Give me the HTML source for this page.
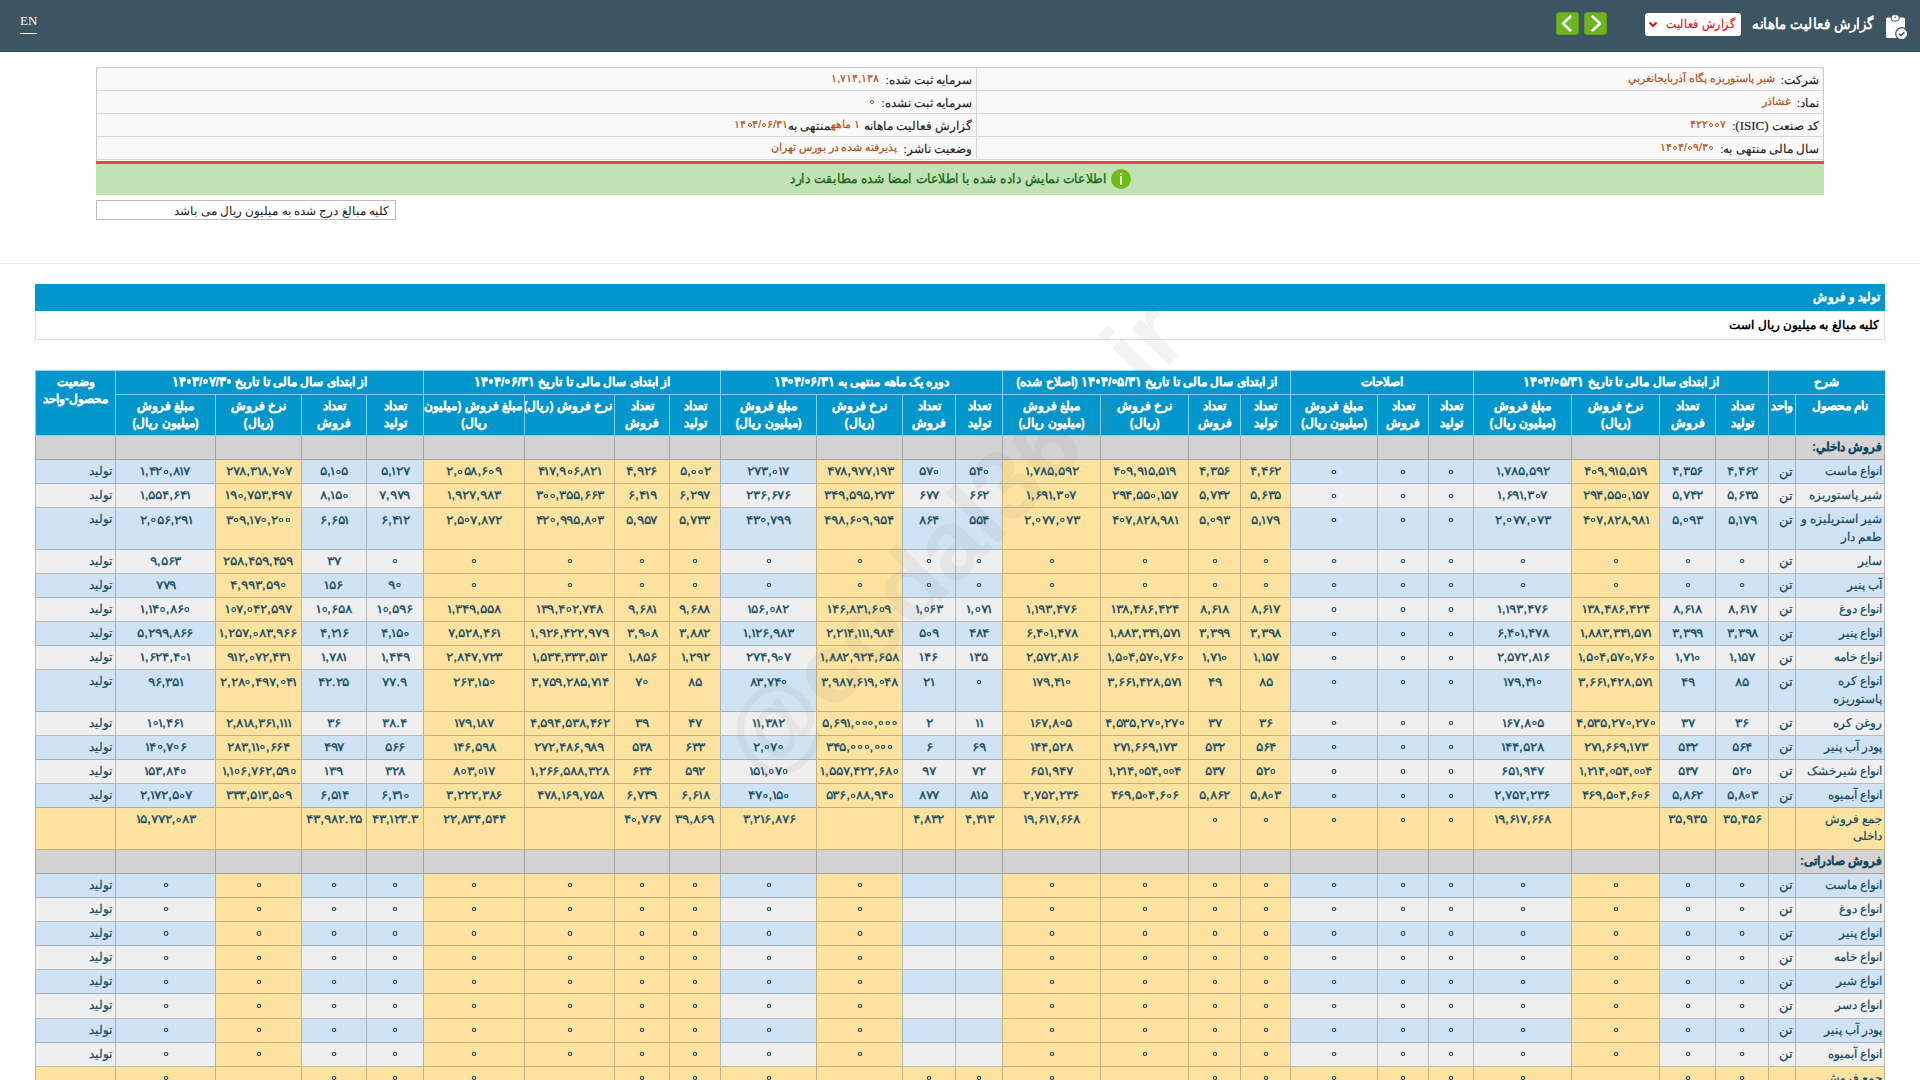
<!DOCTYPE html>
<html lang="fa" dir="rtl"><head><meta charset="utf-8"><title>گزارش فعالیت ماهانه</title>
<style>
html,body{margin:0;padding:0;background:#fff;}
body{width:1920px;height:1080px;overflow:hidden;position:relative;font-family:"Liberation Sans",sans-serif;font-size:12px;color:#333;}
.bar{position:absolute;left:0;top:0;width:1920px;height:51px;background:#3d5562;border-bottom:1px solid #38474f;}
.en{position:absolute;left:20px;top:13px;font-family:"Liberation Serif",serif;font-size:13px;color:#fff;direction:ltr;}
.en:after{content:"";position:absolute;left:0;right:0;top:20px;height:1px;background:#fff;}
.ttl{position:absolute;right:47px;top:14.5px;font-size:15px;font-weight:bold;color:#fff;white-space:nowrap;transform:scaleX(0.9);transform-origin:right center;}
.dd{position:absolute;left:1645px;top:13px;width:96px;height:23px;background:#fff;border-radius:3px;}
.dd span{position:absolute;right:6px;top:4px;font-size:11.5px;transform:scaleX(0.91);transform-origin:right center;-webkit-text-stroke:0.2px #e0161e;color:#e0161e;white-space:nowrap;}
.gb{position:absolute;top:12px;width:23px;height:23px;background:#6cb421;border-radius:4px;box-shadow:inset 0 0 0 1px #5f9f1f;}
.ic{position:absolute;left:1880px;top:10px;}
.info{position:absolute;left:96px;top:67px;width:1728px;height:128px;}
.itab{position:absolute;left:0;top:0;width:1728px;border-collapse:collapse;background:#f9f9f9;table-layout:fixed;}
.itab td{border:1px solid #d6d6d6;height:20px;padding:2px 4px 0 5px;font-size:11.5px;color:#222;-webkit-text-stroke:0.15px #222;white-space:nowrap;vertical-align:middle;}
.itab .v{color:#b0501a;font-size:10.6px;position:relative;top:-2px;margin-right:3px;-webkit-text-stroke:0.2px #b0501a;}
.itab .v .z{width:6px;}
.itab .v .z:after{left:1.2px;width:4px;height:4px;border-width:1.2px;bottom:1px;}
.ser{font-family:'Liberation Serif',serif;font-size:13px;}
.red{position:absolute;left:0;top:93.6px;width:1728px;height:3.4px;background:#e4474a;}
.grn{position:absolute;left:0;top:97px;width:1728px;height:31px;background:#c1e2b3;}
.grn span{position:absolute;right:718px;top:6.5px;font-size:12.6px;transform:scaleX(0.943);transform-origin:right center;-webkit-text-stroke:0.3px #176514;color:#176514;white-space:nowrap;}
.gi{position:absolute;left:1015px;top:5px;width:20px;height:20px;border-radius:50%;background:#6cbb18;}
.gi:after{content:"";position:absolute;left:9px;top:7px;width:2px;height:9px;background:#e8ffd8;}
.gi:before{content:"";position:absolute;left:9px;top:4px;width:2px;height:2px;background:#e8ffd8;}
.mbox{position:absolute;left:96px;top:200px;width:298px;height:18px;border:1px solid #bdbdbd;background:#fff;}
.mbox span{position:absolute;right:6px;top:3px;font-size:12px;color:#222;white-space:nowrap;}
.hr{position:absolute;left:0;top:263px;width:1920px;height:1px;background:#eee;}
.sh{position:absolute;left:35px;top:284px;width:1850px;height:27px;background:#0197cc;}
.sh span{position:absolute;right:6px;top:6px;font-size:11.5px;transform:scaleX(0.95);transform-origin:right center;-webkit-text-stroke:0.2px #fff;font-weight:bold;color:#fff;white-space:nowrap;}
.sr{position:absolute;left:35px;top:311px;width:1848px;height:28px;border:1px solid #ddd;border-top:0;background:#fff;}
.sr span{position:absolute;right:5px;top:7px;font-size:12px;font-weight:bold;color:#000;white-space:nowrap;}
.dt{position:absolute;left:35px;top:370px;z-index:1;width:1850px;table-layout:fixed;border-collapse:separate;border-spacing:0;}
.dt th{background:#0197cc;color:#fff;font-weight:bold;-webkit-text-stroke:0.25px #fff;border:0;border-left:1px solid #7fd0ee;border-bottom:1px solid #7fd0ee;padding:3px 2px;line-height:17.142857px;font-size:12px;white-space:nowrap;overflow:hidden;text-align:center;vertical-align:top;}
.dt td{border:0;border-left:1px solid rgba(0,0,0,0.22);border-bottom:1px solid rgba(0,0,0,0.22);padding:3px 3px;line-height:17.142857px;font-size:12px;color:#134a62;-webkit-text-stroke:0.2px #134a62;text-align:center;vertical-align:top;white-space:nowrap;overflow:hidden;}
.dt tr.b td{background:#d0e3f5;}
.dt tr.g td{background:#efefef;}
.dt tr.s td{background:#fee3a0;}
.dt tr.sec td{background:#d3d3d3;}
.dt td.y{background:#fee3a0 !important;}
.dt td.nm{text-align:right;padding-right:2px;}
.dt td.u{text-align:right;padding-right:2px;}
.dt td.u span{font-size:13px;vertical-align:top;display:inline-block;position:relative;top:-0.5px;}
.dt tr.sec td.nm{font-weight:bold;}
.dt td.st{text-align:right;padding-right:3px;}
.wm{position:absolute;z-index:5;left:953px;top:539px;width:0;height:0;pointer-events:none;}
.wm span{position:absolute;left:0;top:0;transform:translate(-50%,-50%) rotate(-46deg);font-size:99px;font-weight:bold;color:rgba(120,120,120,0.09);white-space:nowrap;direction:ltr;line-height:1;}

.n{font-size:12px;vertical-align:top;display:inline-block;transform:scaleX(1.15);position:relative;top:0.2px;direction:ltr;unicode-bidi:isolate;-webkit-text-stroke:0.25px currentColor;}
.o{font-weight:normal;margin:0 -1.3px;}
.hn{direction:ltr;unicode-bidi:isolate;}
.dt th .hn{font-size:12.5px;display:inline-block;vertical-align:top;transform:scaleX(1.0);}
.z{display:inline-block;width:5.6px;height:1px;position:relative;}
.z:after{content:"";position:absolute;left:1.1px;bottom:1.6px;width:4px;height:4.1px;box-sizing:border-box;border:1.55px solid currentColor;border-radius:50%;}
.dt th .z{width:6px;}
.dt th .z:after{left:0.6px;width:4.8px;height:4.6px;border-width:2.1px;bottom:2.4px;}

.dt tr td:first-child{border-right:1px solid rgba(0,0,0,0.22);}
.dt tr.h2 th:first-child{border-right:1px solid #0197cc;}
.dt tr.h1 th:first-child{border-right:1px solid #0197cc;}

.dt tr.h1 th{padding:3px 2px 3px;border-top:1px solid #9ad8ef;}
.dt tr.h2 th{padding:3px 2px 2.7px;}
.dt tr.sec:nth-child(3) td{padding-top:2.9px;}

.info:before{content:"";position:absolute;left:0;top:0;width:1728px;height:94px;box-sizing:border-box;border:1px solid #c9c9c9;border-bottom:0;border-radius:3px 3px 0 0;z-index:2;pointer-events:none;}
.itab{border-radius:3px 3px 0 0;overflow:hidden;}

</style></head><body>
<div class="bar">
<div class="en">EN</div>
<div class="ttl">گزارش فعالیت ماهانه</div>
<div class="dd"><svg style="position:absolute;left:3px;top:8px" width="10" height="7" viewBox="0 0 10 7"><path d="M1.5 1.5 L5 5 L8.5 1.5" stroke="#e0161e" stroke-width="2.2" fill="none"/></svg><span>گزارش فعالیت</span></div>
<div class="gb" style="left:1556px"><svg width="23" height="23" viewBox="0 0 23 23"><path d="M14.5 4.5 L7 11.5 L14.5 18.5" stroke="#fff" stroke-width="2.4" stroke-linecap="round" stroke-linejoin="round" fill="none"/></svg></div>
<div class="gb" style="left:1584px"><svg width="23" height="23" viewBox="0 0 23 23"><path d="M8.5 4.5 L16 11.5 L8.5 18.5" stroke="#fff" stroke-width="2.4" stroke-linecap="round" stroke-linejoin="round" fill="none"/></svg></div>
<svg class="ic" width="32" height="32" viewBox="0 0 32 32"><rect x="6" y="7.5" width="19" height="20.5" rx="1.5" fill="#fff"/><rect x="11.2" y="4.8" width="7.9" height="6.2" rx="2.2" fill="#fff" stroke="#3d5562" stroke-width="1"/><circle cx="15.15" cy="7.2" r="0.75" fill="#3d5562"/><circle cx="21.7" cy="23.7" r="6" fill="#fff" stroke="#3d5562" stroke-width="1.3"/><path d="M19 23.8 L21 25.6 L24.4 22.2" stroke="#3d5562" stroke-width="1.5" fill="none"/></svg>
</div>
<div class="info">
<table class="itab">
<tr><td style="width:837px">شرکت: <span class="v">شیر پاستوریزه پگاه آذربایجانغربي</span></td><td>سرمایه ثبت شده: <span class="v">۱,۷۱۴,۱۳۸</span></td></tr>
<tr><td>نماد: <span class="v">غشاذر</span></td><td>سرمایه ثبت نشده: <span class="v hn"><i class="z"></i></span></td></tr>
<tr><td>کد صنعت <span class="ser">(ISIC)</span>: <span class="v hn">۴۲۲<i class="z"></i><i class="z"></i>۷</span></td><td>گزارش فعالیت ماهانه <span class="v" style="margin:0">۱ ماهه</span>منتهی به<span class="v hn" style="margin:0">۱۴<i class="z"></i>۴/<i class="z"></i>۶/۳۱</span></td></tr>
<tr><td>سال مالی منتهی به: <span class="v hn">۱۴<i class="z"></i>۴/<i class="z"></i>۹/۳<i class="z"></i></span></td><td>وضعیت ناشر: <span class="v">پذیرفته شده در بورس تهران</span></td></tr>
</table>
<div class="red"></div>
<div class="grn"><span>اطلاعات نمایش داده شده با اطلاعات امضا شده مطابقت دارد</span><div class="gi"></div></div>
</div>
<div class="mbox"><span>کلیه مبالغ درج شده به میلیون ریال می باشد</span></div>
<div class="hr"></div>
<div class="sh"><span>تولید و فروش</span></div>
<div class="sr"><span>کلیه مبالغ به میلیون ریال است</span></div>
<div class="wm"><span>@codal360.ir</span></div>

<table class="dt"><colgroup><col style="width:90px"><col style="width:27px"><col style="width:53px"><col style="width:56px"><col style="width:88px"><col style="width:98px"><col style="width:45px"><col style="width:51px"><col style="width:87px"><col style="width:50px"><col style="width:52px"><col style="width:88px"><col style="width:98px"><col style="width:47px"><col style="width:53px"><col style="width:86px"><col style="width:96px"><col style="width:51px"><col style="width:55px"><col style="width:90px"><col style="width:101px"><col style="width:57px"><col style="width:65px"><col style="width:86px"><col style="width:100px"><col style="width:80px"></colgroup>
<tr class="h1"><th colspan="2">شرح</th><th colspan="4">از ابتدای سال مالی تا تاریخ <span class="hn">۱۴<i class="z"></i>۴/<i class="z"></i>۵/۳۱</span></th><th colspan="3">اصلاحات</th><th colspan="4">از ابتدای سال مالی تا تاریخ <span class="hn">۱۴<i class="z"></i>۴/<i class="z"></i>۵/۳۱</span> (اصلاح شده)</th><th colspan="4">دوره یک ماهه منتهی به <span class="hn">۱۴<i class="z"></i>۴/<i class="z"></i>۶/۳۱</span></th><th colspan="4">از ابتدای سال مالی تا تاریخ <span class="hn">۱۴<i class="z"></i>۴/<i class="z"></i>۶/۳۱</span></th><th colspan="4">از ابتدای سال مالی تا تاریخ <span class="hn">۱۴<i class="z"></i>۳/<i class="z"></i>۷/۳<i class="z"></i></span></th><th rowspan="2" class="vz">وضعیت<br>محصول-واحد</th></tr>
<tr class="h2"><th>نام محصول</th><th>واحد</th>
<th>تعداد<br>تولید</th><th>تعداد<br>فروش</th><th>نرخ فروش<br>(ریال)</th><th>مبلغ فروش<br>(میلیون ریال)</th>
<th>تعداد<br>تولید</th><th>تعداد<br>فروش</th><th>مبلغ فروش<br>(میلیون ریال)</th>
<th>تعداد<br>تولید</th><th>تعداد<br>فروش</th><th>نرخ فروش<br>(ریال)</th><th>مبلغ فروش<br>(میلیون ریال)</th>
<th>تعداد<br>تولید</th><th>تعداد<br>فروش</th><th>نرخ فروش<br>(ریال)</th><th>مبلغ فروش<br>(میلیون ریال)</th>
<th>تعداد<br>تولید</th><th>تعداد<br>فروش</th><th>نرخ فروش (ریال)</th><th>مبلغ فروش (میلیون<br>ریال)</th>
<th>تعداد<br>تولید</th><th>تعداد<br>فروش</th><th>نرخ فروش<br>(ریال)</th><th>مبلغ فروش<br>(میلیون ریال)</th></tr>
<tr class="sec"><td class="nm">فروش داخلي:</td><td></td><td></td><td></td><td></td><td></td><td></td><td></td><td></td><td></td><td></td><td></td><td></td><td></td><td></td><td></td><td></td><td></td><td></td><td></td><td></td><td></td><td></td><td></td><td></td><td></td></tr>
<tr class="b"><td class="nm">انواع ماست</td><td class="u"><span>تن</span></td><td><span class="n">۴,۴۶۲</span></td><td><span class="n">۴,۳۵۶</span></td><td class="y"><span class="n">۴<i class="z"></i>۹,۹<b class="o">۱</b>۵,۵<b class="o">۱</b>۹</span></td><td><span class="n"><b class="o">۱</b>,۷۸۵,۵۹۲</span></td><td><span class="n"><i class="z"></i></span></td><td><span class="n"><i class="z"></i></span></td><td><span class="n"><i class="z"></i></span></td><td class="y"><span class="n">۴,۴۶۲</span></td><td class="y"><span class="n">۴,۳۵۶</span></td><td class="y"><span class="n">۴<i class="z"></i>۹,۹<b class="o">۱</b>۵,۵<b class="o">۱</b>۹</span></td><td class="y"><span class="n"><b class="o">۱</b>,۷۸۵,۵۹۲</span></td><td><span class="n">۵۴<i class="z"></i></span></td><td><span class="n">۵۷<i class="z"></i></span></td><td class="y"><span class="n">۴۷۸,۹۷۷,<b class="o">۱</b>۹۳</span></td><td><span class="n">۲۷۳,<i class="z"></i><b class="o">۱</b>۷</span></td><td class="y"><span class="n">۵,<i class="z"></i><i class="z"></i>۲</span></td><td class="y"><span class="n">۴,۹۲۶</span></td><td class="y"><span class="n">۴<b class="o">۱</b>۷,۹<i class="z"></i>۶,۸۲<b class="o">۱</b></span></td><td class="y"><span class="n">۲,<i class="z"></i>۵۸,۶<i class="z"></i>۹</span></td><td><span class="n">۵,<b class="o">۱</b>۲۷</span></td><td><span class="n">۵,<b class="o">۱</b><i class="z"></i>۵</span></td><td class="y"><span class="n">۲۷۸,۳<b class="o">۱</b>۸,۷<i class="z"></i>۷</span></td><td><span class="n"><b class="o">۱</b>,۴۲<i class="z"></i>,۸<b class="o">۱</b>۷</span></td><td class="st">تولید</td></tr>
<tr class="g"><td class="nm">شیر پاستوریزه</td><td class="u"><span>تن</span></td><td><span class="n">۵,۶۳۵</span></td><td><span class="n">۵,۷۴۲</span></td><td class="y"><span class="n">۲۹۴,۵۵<i class="z"></i>,<b class="o">۱</b>۵۷</span></td><td><span class="n"><b class="o">۱</b>,۶۹<b class="o">۱</b>,۳<i class="z"></i>۷</span></td><td><span class="n"><i class="z"></i></span></td><td><span class="n"><i class="z"></i></span></td><td><span class="n"><i class="z"></i></span></td><td class="y"><span class="n">۵,۶۳۵</span></td><td class="y"><span class="n">۵,۷۴۲</span></td><td class="y"><span class="n">۲۹۴,۵۵<i class="z"></i>,<b class="o">۱</b>۵۷</span></td><td class="y"><span class="n"><b class="o">۱</b>,۶۹<b class="o">۱</b>,۳<i class="z"></i>۷</span></td><td><span class="n">۶۶۲</span></td><td><span class="n">۶۷۷</span></td><td class="y"><span class="n">۳۴۹,۵۹۵,۲۷۳</span></td><td><span class="n">۲۳۶,۶۷۶</span></td><td class="y"><span class="n">۶,۲۹۷</span></td><td class="y"><span class="n">۶,۴<b class="o">۱</b>۹</span></td><td class="y"><span class="n">۳<i class="z"></i><i class="z"></i>,۳۵۵,۶۶۳</span></td><td class="y"><span class="n"><b class="o">۱</b>,۹۲۷,۹۸۳</span></td><td><span class="n">۷,۹۷۹</span></td><td><span class="n">۸,<b class="o">۱</b>۵<i class="z"></i></span></td><td class="y"><span class="n"><b class="o">۱</b>۹<i class="z"></i>,۷۵۳,۴۹۷</span></td><td><span class="n"><b class="o">۱</b>,۵۵۴,۶۴<b class="o">۱</b></span></td><td class="st">تولید</td></tr>
<tr class="b"><td class="nm">شیر استریلیزه و<br>طعم دار</td><td class="u"><span>تن</span></td><td><span class="n">۵,<b class="o">۱</b>۷۹</span></td><td><span class="n">۵,<i class="z"></i>۹۳</span></td><td class="y"><span class="n">۴<i class="z"></i>۷,۸۲۸,۹۸<b class="o">۱</b></span></td><td><span class="n">۲,<i class="z"></i>۷۷,<i class="z"></i>۷۳</span></td><td><span class="n"><i class="z"></i></span></td><td><span class="n"><i class="z"></i></span></td><td><span class="n"><i class="z"></i></span></td><td class="y"><span class="n">۵,<b class="o">۱</b>۷۹</span></td><td class="y"><span class="n">۵,<i class="z"></i>۹۳</span></td><td class="y"><span class="n">۴<i class="z"></i>۷,۸۲۸,۹۸<b class="o">۱</b></span></td><td class="y"><span class="n">۲,<i class="z"></i>۷۷,<i class="z"></i>۷۳</span></td><td><span class="n">۵۵۴</span></td><td><span class="n">۸۶۴</span></td><td class="y"><span class="n">۴۹۸,۶<i class="z"></i>۹,۹۵۴</span></td><td><span class="n">۴۳<i class="z"></i>,۷۹۹</span></td><td class="y"><span class="n">۵,۷۳۳</span></td><td class="y"><span class="n">۵,۹۵۷</span></td><td class="y"><span class="n">۴۲<i class="z"></i>,۹۹۵,۸<i class="z"></i>۳</span></td><td class="y"><span class="n">۲,۵<i class="z"></i>۷,۸۷۲</span></td><td><span class="n">۶,۴<b class="o">۱</b>۲</span></td><td><span class="n">۶,۶۵<b class="o">۱</b></span></td><td class="y"><span class="n">۳<i class="z"></i>۹,<b class="o">۱</b>۷<i class="z"></i>,۲<i class="z"></i><i class="z"></i></span></td><td><span class="n">۲,<i class="z"></i>۵۶,۲۹<b class="o">۱</b></span></td><td class="st">تولید</td></tr>
<tr class="g"><td class="nm">سایر</td><td class="u"><span>تن</span></td><td><span class="n"><i class="z"></i></span></td><td><span class="n"><i class="z"></i></span></td><td class="y"><span class="n"><i class="z"></i></span></td><td><span class="n"><i class="z"></i></span></td><td><span class="n"><i class="z"></i></span></td><td><span class="n"><i class="z"></i></span></td><td><span class="n"><i class="z"></i></span></td><td class="y"><span class="n"><i class="z"></i></span></td><td class="y"><span class="n"><i class="z"></i></span></td><td class="y"><span class="n"><i class="z"></i></span></td><td class="y"><span class="n"><i class="z"></i></span></td><td><span class="n"><i class="z"></i></span></td><td><span class="n"><i class="z"></i></span></td><td class="y"><span class="n"><i class="z"></i></span></td><td><span class="n"><i class="z"></i></span></td><td class="y"><span class="n"><i class="z"></i></span></td><td class="y"><span class="n"><i class="z"></i></span></td><td class="y"><span class="n"><i class="z"></i></span></td><td class="y"><span class="n"><i class="z"></i></span></td><td><span class="n"><i class="z"></i></span></td><td><span class="n">۳۷</span></td><td class="y"><span class="n">۲۵۸,۴۵۹,۴۵۹</span></td><td><span class="n">۹,۵۶۳</span></td><td class="st">تولید</td></tr>
<tr class="b"><td class="nm">آب پنیر</td><td class="u"><span>تن</span></td><td><span class="n"><i class="z"></i></span></td><td><span class="n"><i class="z"></i></span></td><td class="y"><span class="n"><i class="z"></i></span></td><td><span class="n"><i class="z"></i></span></td><td><span class="n"><i class="z"></i></span></td><td><span class="n"><i class="z"></i></span></td><td><span class="n"><i class="z"></i></span></td><td class="y"><span class="n"><i class="z"></i></span></td><td class="y"><span class="n"><i class="z"></i></span></td><td class="y"><span class="n"><i class="z"></i></span></td><td class="y"><span class="n"><i class="z"></i></span></td><td><span class="n"><i class="z"></i></span></td><td><span class="n"><i class="z"></i></span></td><td class="y"><span class="n"><i class="z"></i></span></td><td><span class="n"><i class="z"></i></span></td><td class="y"><span class="n"><i class="z"></i></span></td><td class="y"><span class="n"><i class="z"></i></span></td><td class="y"><span class="n"><i class="z"></i></span></td><td class="y"><span class="n"><i class="z"></i></span></td><td><span class="n">۹<i class="z"></i></span></td><td><span class="n"><b class="o">۱</b>۵۶</span></td><td class="y"><span class="n">۴,۹۹۳,۵۹<i class="z"></i></span></td><td><span class="n">۷۷۹</span></td><td class="st">تولید</td></tr>
<tr class="g"><td class="nm">انواع دوغ</td><td class="u"><span>تن</span></td><td><span class="n">۸,۶<b class="o">۱</b>۷</span></td><td><span class="n">۸,۶<b class="o">۱</b>۸</span></td><td class="y"><span class="n"><b class="o">۱</b>۳۸,۴۸۶,۴۲۴</span></td><td><span class="n"><b class="o">۱</b>,<b class="o">۱</b>۹۳,۴۷۶</span></td><td><span class="n"><i class="z"></i></span></td><td><span class="n"><i class="z"></i></span></td><td><span class="n"><i class="z"></i></span></td><td class="y"><span class="n">۸,۶<b class="o">۱</b>۷</span></td><td class="y"><span class="n">۸,۶<b class="o">۱</b>۸</span></td><td class="y"><span class="n"><b class="o">۱</b>۳۸,۴۸۶,۴۲۴</span></td><td class="y"><span class="n"><b class="o">۱</b>,<b class="o">۱</b>۹۳,۴۷۶</span></td><td><span class="n"><b class="o">۱</b>,<i class="z"></i>۷<b class="o">۱</b></span></td><td><span class="n"><b class="o">۱</b>,<i class="z"></i>۶۳</span></td><td class="y"><span class="n"><b class="o">۱</b>۴۶,۸۳<b class="o">۱</b>,۶<i class="z"></i>۹</span></td><td><span class="n"><b class="o">۱</b>۵۶,<i class="z"></i>۸۲</span></td><td class="y"><span class="n">۹,۶۸۸</span></td><td class="y"><span class="n">۹,۶۸<b class="o">۱</b></span></td><td class="y"><span class="n"><b class="o">۱</b>۳۹,۴<i class="z"></i>۲,۷۴۸</span></td><td class="y"><span class="n"><b class="o">۱</b>,۳۴۹,۵۵۸</span></td><td><span class="n"><b class="o">۱</b><i class="z"></i>,۵۹۶</span></td><td><span class="n"><b class="o">۱</b><i class="z"></i>,۶۵۸</span></td><td class="y"><span class="n"><b class="o">۱</b><i class="z"></i>۷,<i class="z"></i>۴۲,۵۹۷</span></td><td><span class="n"><b class="o">۱</b>,<b class="o">۱</b>۴<i class="z"></i>,۸۶<i class="z"></i></span></td><td class="st">تولید</td></tr>
<tr class="b"><td class="nm">انواع پنیر</td><td class="u"><span>تن</span></td><td><span class="n">۳,۳۹۸</span></td><td><span class="n">۳,۳۹۹</span></td><td class="y"><span class="n"><b class="o">۱</b>,۸۸۳,۳۴<b class="o">۱</b>,۵۷<b class="o">۱</b></span></td><td><span class="n">۶,۴<i class="z"></i><b class="o">۱</b>,۴۷۸</span></td><td><span class="n"><i class="z"></i></span></td><td><span class="n"><i class="z"></i></span></td><td><span class="n"><i class="z"></i></span></td><td class="y"><span class="n">۳,۳۹۸</span></td><td class="y"><span class="n">۳,۳۹۹</span></td><td class="y"><span class="n"><b class="o">۱</b>,۸۸۳,۳۴<b class="o">۱</b>,۵۷<b class="o">۱</b></span></td><td class="y"><span class="n">۶,۴<i class="z"></i><b class="o">۱</b>,۴۷۸</span></td><td><span class="n">۴۸۴</span></td><td><span class="n">۵<i class="z"></i>۹</span></td><td class="y"><span class="n">۲,۲<b class="o">۱</b>۴,<b class="o">۱</b><b class="o">۱</b><b class="o">۱</b>,۹۸۴</span></td><td><span class="n"><b class="o">۱</b>,<b class="o">۱</b>۲۶,۹۸۳</span></td><td class="y"><span class="n">۳,۸۸۲</span></td><td class="y"><span class="n">۳,۹<i class="z"></i>۸</span></td><td class="y"><span class="n"><b class="o">۱</b>,۹۲۶,۴۲۲,۹۷۹</span></td><td class="y"><span class="n">۷,۵۲۸,۴۶<b class="o">۱</b></span></td><td><span class="n">۴,<b class="o">۱</b>۵<i class="z"></i></span></td><td><span class="n">۴,۲<b class="o">۱</b>۶</span></td><td class="y"><span class="n"><b class="o">۱</b>,۲۵۷,<i class="z"></i>۸۳,۹۶۶</span></td><td><span class="n">۵,۲۹۹,۸۶۶</span></td><td class="st">تولید</td></tr>
<tr class="g"><td class="nm">انواع خامه</td><td class="u"><span>تن</span></td><td><span class="n"><b class="o">۱</b>,<b class="o">۱</b>۵۷</span></td><td><span class="n"><b class="o">۱</b>,۷<b class="o">۱</b><i class="z"></i></span></td><td class="y"><span class="n"><b class="o">۱</b>,۵<i class="z"></i>۴,۵۷<i class="z"></i>,۷۶<i class="z"></i></span></td><td><span class="n">۲,۵۷۲,۸<b class="o">۱</b>۶</span></td><td><span class="n"><i class="z"></i></span></td><td><span class="n"><i class="z"></i></span></td><td><span class="n"><i class="z"></i></span></td><td class="y"><span class="n"><b class="o">۱</b>,<b class="o">۱</b>۵۷</span></td><td class="y"><span class="n"><b class="o">۱</b>,۷<b class="o">۱</b><i class="z"></i></span></td><td class="y"><span class="n"><b class="o">۱</b>,۵<i class="z"></i>۴,۵۷<i class="z"></i>,۷۶<i class="z"></i></span></td><td class="y"><span class="n">۲,۵۷۲,۸<b class="o">۱</b>۶</span></td><td><span class="n"><b class="o">۱</b>۳۵</span></td><td><span class="n"><b class="o">۱</b>۴۶</span></td><td class="y"><span class="n"><b class="o">۱</b>,۸۸۲,۹۲۴,۶۵۸</span></td><td><span class="n">۲۷۴,۹<i class="z"></i>۷</span></td><td class="y"><span class="n"><b class="o">۱</b>,۲۹۲</span></td><td class="y"><span class="n"><b class="o">۱</b>,۸۵۶</span></td><td class="y"><span class="n"><b class="o">۱</b>,۵۳۴,۳۳۳,۵<b class="o">۱</b>۳</span></td><td class="y"><span class="n">۲,۸۴۷,۷۲۳</span></td><td><span class="n"><b class="o">۱</b>,۴۴۹</span></td><td><span class="n"><b class="o">۱</b>,۷۸<b class="o">۱</b></span></td><td class="y"><span class="n">۹<b class="o">۱</b>۲,<i class="z"></i>۷۲,۴۳<b class="o">۱</b></span></td><td><span class="n"><b class="o">۱</b>,۶۲۴,۴<i class="z"></i><b class="o">۱</b></span></td><td class="st">تولید</td></tr>
<tr class="b"><td class="nm">انواع کره<br>پاستوریزه</td><td class="u"><span>تن</span></td><td><span class="n">۸۵</span></td><td><span class="n">۴۹</span></td><td class="y"><span class="n">۳,۶۶<b class="o">۱</b>,۴۲۸,۵۷<b class="o">۱</b></span></td><td><span class="n"><b class="o">۱</b>۷۹,۴<b class="o">۱</b><i class="z"></i></span></td><td><span class="n"><i class="z"></i></span></td><td><span class="n"><i class="z"></i></span></td><td><span class="n"><i class="z"></i></span></td><td class="y"><span class="n">۸۵</span></td><td class="y"><span class="n">۴۹</span></td><td class="y"><span class="n">۳,۶۶<b class="o">۱</b>,۴۲۸,۵۷<b class="o">۱</b></span></td><td class="y"><span class="n"><b class="o">۱</b>۷۹,۴<b class="o">۱</b><i class="z"></i></span></td><td><span class="n"><i class="z"></i></span></td><td><span class="n">۲<b class="o">۱</b></span></td><td class="y"><span class="n">۳,۹۸۷,۶<b class="o">۱</b>۹,<i class="z"></i>۴۸</span></td><td><span class="n">۸۳,۷۴<i class="z"></i></span></td><td class="y"><span class="n">۸۵</span></td><td class="y"><span class="n">۷<i class="z"></i></span></td><td class="y"><span class="n">۳,۷۵۹,۲۸۵,۷<b class="o">۱</b>۴</span></td><td class="y"><span class="n">۲۶۳,<b class="o">۱</b>۵<i class="z"></i></span></td><td><span class="n">۷۷.۹</span></td><td><span class="n">۴۲.۲۵</span></td><td class="y"><span class="n">۲,۲۸<i class="z"></i>,۴۹۷,<i class="z"></i>۴<b class="o">۱</b></span></td><td><span class="n">۹۶,۳۵<b class="o">۱</b></span></td><td class="st">تولید</td></tr>
<tr class="g"><td class="nm">روغن کره</td><td class="u"><span>تن</span></td><td><span class="n">۳۶</span></td><td><span class="n">۳۷</span></td><td class="y"><span class="n">۴,۵۳۵,۲۷<i class="z"></i>,۲۷<i class="z"></i></span></td><td><span class="n"><b class="o">۱</b>۶۷,۸<i class="z"></i>۵</span></td><td><span class="n"><i class="z"></i></span></td><td><span class="n"><i class="z"></i></span></td><td><span class="n"><i class="z"></i></span></td><td class="y"><span class="n">۳۶</span></td><td class="y"><span class="n">۳۷</span></td><td class="y"><span class="n">۴,۵۳۵,۲۷<i class="z"></i>,۲۷<i class="z"></i></span></td><td class="y"><span class="n"><b class="o">۱</b>۶۷,۸<i class="z"></i>۵</span></td><td><span class="n"><b class="o">۱</b><b class="o">۱</b></span></td><td><span class="n">۲</span></td><td class="y"><span class="n">۵,۶۹<b class="o">۱</b>,<i class="z"></i><i class="z"></i><i class="z"></i>,<i class="z"></i><i class="z"></i><i class="z"></i></span></td><td><span class="n"><b class="o">۱</b><b class="o">۱</b>,۳۸۲</span></td><td class="y"><span class="n">۴۷</span></td><td class="y"><span class="n">۳۹</span></td><td class="y"><span class="n">۴,۵۹۴,۵۳۸,۴۶۲</span></td><td class="y"><span class="n"><b class="o">۱</b>۷۹,<b class="o">۱</b>۸۷</span></td><td><span class="n">۳۸.۴</span></td><td><span class="n">۳۶</span></td><td class="y"><span class="n">۲,۸<b class="o">۱</b>۸,۳۶<b class="o">۱</b>,<b class="o">۱</b><b class="o">۱</b><b class="o">۱</b></span></td><td><span class="n"><b class="o">۱</b><i class="z"></i><b class="o">۱</b>,۴۶<b class="o">۱</b></span></td><td class="st">تولید</td></tr>
<tr class="b"><td class="nm">پودر آب پنیر</td><td class="u"><span>تن</span></td><td><span class="n">۵۶۴</span></td><td><span class="n">۵۳۲</span></td><td class="y"><span class="n">۲۷<b class="o">۱</b>,۶۶۹,<b class="o">۱</b>۷۳</span></td><td><span class="n"><b class="o">۱</b>۴۴,۵۲۸</span></td><td><span class="n"><i class="z"></i></span></td><td><span class="n"><i class="z"></i></span></td><td><span class="n"><i class="z"></i></span></td><td class="y"><span class="n">۵۶۴</span></td><td class="y"><span class="n">۵۳۲</span></td><td class="y"><span class="n">۲۷<b class="o">۱</b>,۶۶۹,<b class="o">۱</b>۷۳</span></td><td class="y"><span class="n"><b class="o">۱</b>۴۴,۵۲۸</span></td><td><span class="n">۶۹</span></td><td><span class="n">۶</span></td><td class="y"><span class="n">۳۴۵,<i class="z"></i><i class="z"></i><i class="z"></i>,<i class="z"></i><i class="z"></i><i class="z"></i></span></td><td><span class="n">۲,<i class="z"></i>۷<i class="z"></i></span></td><td class="y"><span class="n">۶۳۳</span></td><td class="y"><span class="n">۵۳۸</span></td><td class="y"><span class="n">۲۷۲,۴۸۶,۹۸۹</span></td><td class="y"><span class="n"><b class="o">۱</b>۴۶,۵۹۸</span></td><td><span class="n">۵۶۶</span></td><td><span class="n">۴۹۷</span></td><td class="y"><span class="n">۲۸۳,<b class="o">۱</b><b class="o">۱</b><i class="z"></i>,۶۶۴</span></td><td><span class="n"><b class="o">۱</b>۴<i class="z"></i>,۷<i class="z"></i>۶</span></td><td class="st">تولید</td></tr>
<tr class="g"><td class="nm">انواع شیرخشک</td><td class="u"><span>تن</span></td><td><span class="n">۵۲<i class="z"></i></span></td><td><span class="n">۵۳۷</span></td><td class="y"><span class="n"><b class="o">۱</b>,۲<b class="o">۱</b>۴,<i class="z"></i>۵۴,<i class="z"></i><i class="z"></i>۴</span></td><td><span class="n">۶۵<b class="o">۱</b>,۹۴۷</span></td><td><span class="n"><i class="z"></i></span></td><td><span class="n"><i class="z"></i></span></td><td><span class="n"><i class="z"></i></span></td><td class="y"><span class="n">۵۲<i class="z"></i></span></td><td class="y"><span class="n">۵۳۷</span></td><td class="y"><span class="n"><b class="o">۱</b>,۲<b class="o">۱</b>۴,<i class="z"></i>۵۴,<i class="z"></i><i class="z"></i>۴</span></td><td class="y"><span class="n">۶۵<b class="o">۱</b>,۹۴۷</span></td><td><span class="n">۷۲</span></td><td><span class="n">۹۷</span></td><td class="y"><span class="n"><b class="o">۱</b>,۵۵۷,۴۲۲,۶۸<i class="z"></i></span></td><td><span class="n"><b class="o">۱</b>۵<b class="o">۱</b>,<i class="z"></i>۷<i class="z"></i></span></td><td class="y"><span class="n">۵۹۲</span></td><td class="y"><span class="n">۶۳۴</span></td><td class="y"><span class="n"><b class="o">۱</b>,۲۶۶,۵۸۸,۳۲۸</span></td><td class="y"><span class="n">۸<i class="z"></i>۳,<i class="z"></i><b class="o">۱</b>۷</span></td><td><span class="n">۳۲۸</span></td><td><span class="n"><b class="o">۱</b>۳۹</span></td><td class="y"><span class="n"><b class="o">۱</b>,<b class="o">۱</b><i class="z"></i>۶,۷۶۲,۵۹<i class="z"></i></span></td><td><span class="n"><b class="o">۱</b>۵۳,۸۴<i class="z"></i></span></td><td class="st">تولید</td></tr>
<tr class="b"><td class="nm">انواع آبمیوه</td><td class="u"><span>تن</span></td><td><span class="n">۵,۸<i class="z"></i>۳</span></td><td><span class="n">۵,۸۶۲</span></td><td class="y"><span class="n">۴۶۹,۵<i class="z"></i>۴,۶<i class="z"></i>۶</span></td><td><span class="n">۲,۷۵۲,۲۳۶</span></td><td><span class="n"><i class="z"></i></span></td><td><span class="n"><i class="z"></i></span></td><td><span class="n"><i class="z"></i></span></td><td class="y"><span class="n">۵,۸<i class="z"></i>۳</span></td><td class="y"><span class="n">۵,۸۶۲</span></td><td class="y"><span class="n">۴۶۹,۵<i class="z"></i>۴,۶<i class="z"></i>۶</span></td><td class="y"><span class="n">۲,۷۵۲,۲۳۶</span></td><td><span class="n">۸<b class="o">۱</b>۵</span></td><td><span class="n">۸۷۷</span></td><td class="y"><span class="n">۵۳۶,<i class="z"></i>۸۸,۹۴<i class="z"></i></span></td><td><span class="n">۴۷<i class="z"></i>,<b class="o">۱</b>۵<i class="z"></i></span></td><td class="y"><span class="n">۶,۶<b class="o">۱</b>۸</span></td><td class="y"><span class="n">۶,۷۳۹</span></td><td class="y"><span class="n">۴۷۸,<b class="o">۱</b>۶۹,۷۵۸</span></td><td class="y"><span class="n">۳,۲۲۲,۳۸۶</span></td><td><span class="n">۶,۳<b class="o">۱</b><i class="z"></i></span></td><td><span class="n">۶,۵<b class="o">۱</b>۴</span></td><td class="y"><span class="n">۳۳۳,۵<b class="o">۱</b>۳,۵<i class="z"></i>۹</span></td><td><span class="n">۲,<b class="o">۱</b>۷۲,۵<i class="z"></i>۷</span></td><td class="st">تولید</td></tr>
<tr class="s"><td class="nm">جمع فروش<br>داخلی</td><td></td><td><span class="n">۳۵,۴۵۶</span></td><td><span class="n">۳۵,۹۳۵</span></td><td></td><td><span class="n"><b class="o">۱</b>۹,۶<b class="o">۱</b>۷,۶۶۸</span></td><td><span class="n"><i class="z"></i></span></td><td><span class="n"><i class="z"></i></span></td><td><span class="n"><i class="z"></i></span></td><td><span class="n"><i class="z"></i></span></td><td><span class="n"><i class="z"></i></span></td><td></td><td><span class="n"><b class="o">۱</b>۹,۶<b class="o">۱</b>۷,۶۶۸</span></td><td><span class="n">۴,۴<b class="o">۱</b>۳</span></td><td><span class="n">۴,۸۳۲</span></td><td></td><td><span class="n">۳,۲<b class="o">۱</b>۶,۸۷۶</span></td><td><span class="n">۳۹,۸۶۹</span></td><td><span class="n">۴<i class="z"></i>,۷۶۷</span></td><td></td><td><span class="n">۲۲,۸۳۴,۵۴۴</span></td><td><span class="n">۴۳,<b class="o">۱</b>۲۳.۳</span></td><td><span class="n">۴۳,۹۸۲.۲۵</span></td><td></td><td><span class="n"><b class="o">۱</b>۵,۷۷۲,<i class="z"></i>۸۳</span></td><td></td></tr>
<tr class="sec"><td class="nm">فروش صادراتی:</td><td></td><td></td><td></td><td></td><td></td><td></td><td></td><td></td><td></td><td></td><td></td><td></td><td></td><td></td><td></td><td></td><td></td><td></td><td></td><td></td><td></td><td></td><td></td><td></td><td></td></tr>
<tr class="b"><td class="nm">انواع ماست</td><td class="u"><span>تن</span></td><td><span class="n"><i class="z"></i></span></td><td><span class="n"><i class="z"></i></span></td><td class="y"><span class="n"><i class="z"></i></span></td><td><span class="n"><i class="z"></i></span></td><td><span class="n"><i class="z"></i></span></td><td><span class="n"><i class="z"></i></span></td><td><span class="n"><i class="z"></i></span></td><td class="y"><span class="n"><i class="z"></i></span></td><td class="y"><span class="n"><i class="z"></i></span></td><td class="y"><span class="n"><i class="z"></i></span></td><td class="y"><span class="n"><i class="z"></i></span></td><td></td><td></td><td class="y"><span class="n"><i class="z"></i></span></td><td><span class="n"><i class="z"></i></span></td><td class="y"><span class="n"><i class="z"></i></span></td><td class="y"><span class="n"><i class="z"></i></span></td><td class="y"><span class="n"><i class="z"></i></span></td><td class="y"><span class="n"><i class="z"></i></span></td><td><span class="n"><i class="z"></i></span></td><td><span class="n"><i class="z"></i></span></td><td class="y"><span class="n"><i class="z"></i></span></td><td><span class="n"><i class="z"></i></span></td><td class="st">تولید</td></tr>
<tr class="g"><td class="nm">انواع دوغ</td><td class="u"><span>تن</span></td><td><span class="n"><i class="z"></i></span></td><td><span class="n"><i class="z"></i></span></td><td class="y"><span class="n"><i class="z"></i></span></td><td><span class="n"><i class="z"></i></span></td><td><span class="n"><i class="z"></i></span></td><td><span class="n"><i class="z"></i></span></td><td><span class="n"><i class="z"></i></span></td><td class="y"><span class="n"><i class="z"></i></span></td><td class="y"><span class="n"><i class="z"></i></span></td><td class="y"><span class="n"><i class="z"></i></span></td><td class="y"><span class="n"><i class="z"></i></span></td><td></td><td></td><td class="y"><span class="n"><i class="z"></i></span></td><td><span class="n"><i class="z"></i></span></td><td class="y"><span class="n"><i class="z"></i></span></td><td class="y"><span class="n"><i class="z"></i></span></td><td class="y"><span class="n"><i class="z"></i></span></td><td class="y"><span class="n"><i class="z"></i></span></td><td><span class="n"><i class="z"></i></span></td><td><span class="n"><i class="z"></i></span></td><td class="y"><span class="n"><i class="z"></i></span></td><td><span class="n"><i class="z"></i></span></td><td class="st">تولید</td></tr>
<tr class="b"><td class="nm">انواع پنیر</td><td class="u"><span>تن</span></td><td><span class="n"><i class="z"></i></span></td><td><span class="n"><i class="z"></i></span></td><td class="y"><span class="n"><i class="z"></i></span></td><td><span class="n"><i class="z"></i></span></td><td><span class="n"><i class="z"></i></span></td><td><span class="n"><i class="z"></i></span></td><td><span class="n"><i class="z"></i></span></td><td class="y"><span class="n"><i class="z"></i></span></td><td class="y"><span class="n"><i class="z"></i></span></td><td class="y"><span class="n"><i class="z"></i></span></td><td class="y"><span class="n"><i class="z"></i></span></td><td></td><td></td><td class="y"><span class="n"><i class="z"></i></span></td><td><span class="n"><i class="z"></i></span></td><td class="y"><span class="n"><i class="z"></i></span></td><td class="y"><span class="n"><i class="z"></i></span></td><td class="y"><span class="n"><i class="z"></i></span></td><td class="y"><span class="n"><i class="z"></i></span></td><td><span class="n"><i class="z"></i></span></td><td><span class="n"><i class="z"></i></span></td><td class="y"><span class="n"><i class="z"></i></span></td><td><span class="n"><i class="z"></i></span></td><td class="st">تولید</td></tr>
<tr class="g"><td class="nm">انواع خامه</td><td class="u"><span>تن</span></td><td><span class="n"><i class="z"></i></span></td><td><span class="n"><i class="z"></i></span></td><td class="y"><span class="n"><i class="z"></i></span></td><td><span class="n"><i class="z"></i></span></td><td><span class="n"><i class="z"></i></span></td><td><span class="n"><i class="z"></i></span></td><td><span class="n"><i class="z"></i></span></td><td class="y"><span class="n"><i class="z"></i></span></td><td class="y"><span class="n"><i class="z"></i></span></td><td class="y"><span class="n"><i class="z"></i></span></td><td class="y"><span class="n"><i class="z"></i></span></td><td></td><td></td><td class="y"><span class="n"><i class="z"></i></span></td><td><span class="n"><i class="z"></i></span></td><td class="y"><span class="n"><i class="z"></i></span></td><td class="y"><span class="n"><i class="z"></i></span></td><td class="y"><span class="n"><i class="z"></i></span></td><td class="y"><span class="n"><i class="z"></i></span></td><td><span class="n"><i class="z"></i></span></td><td><span class="n"><i class="z"></i></span></td><td class="y"><span class="n"><i class="z"></i></span></td><td><span class="n"><i class="z"></i></span></td><td class="st">تولید</td></tr>
<tr class="b"><td class="nm">انواع شیر</td><td class="u"><span>تن</span></td><td><span class="n"><i class="z"></i></span></td><td><span class="n"><i class="z"></i></span></td><td class="y"><span class="n"><i class="z"></i></span></td><td><span class="n"><i class="z"></i></span></td><td><span class="n"><i class="z"></i></span></td><td><span class="n"><i class="z"></i></span></td><td><span class="n"><i class="z"></i></span></td><td class="y"><span class="n"><i class="z"></i></span></td><td class="y"><span class="n"><i class="z"></i></span></td><td class="y"><span class="n"><i class="z"></i></span></td><td class="y"><span class="n"><i class="z"></i></span></td><td></td><td></td><td class="y"><span class="n"><i class="z"></i></span></td><td><span class="n"><i class="z"></i></span></td><td class="y"><span class="n"><i class="z"></i></span></td><td class="y"><span class="n"><i class="z"></i></span></td><td class="y"><span class="n"><i class="z"></i></span></td><td class="y"><span class="n"><i class="z"></i></span></td><td><span class="n"><i class="z"></i></span></td><td><span class="n"><i class="z"></i></span></td><td class="y"><span class="n"><i class="z"></i></span></td><td><span class="n"><i class="z"></i></span></td><td class="st">تولید</td></tr>
<tr class="g"><td class="nm">انواع دسر</td><td class="u"><span>تن</span></td><td><span class="n"><i class="z"></i></span></td><td><span class="n"><i class="z"></i></span></td><td class="y"><span class="n"><i class="z"></i></span></td><td><span class="n"><i class="z"></i></span></td><td><span class="n"><i class="z"></i></span></td><td><span class="n"><i class="z"></i></span></td><td><span class="n"><i class="z"></i></span></td><td class="y"><span class="n"><i class="z"></i></span></td><td class="y"><span class="n"><i class="z"></i></span></td><td class="y"><span class="n"><i class="z"></i></span></td><td class="y"><span class="n"><i class="z"></i></span></td><td></td><td></td><td class="y"><span class="n"><i class="z"></i></span></td><td><span class="n"><i class="z"></i></span></td><td class="y"><span class="n"><i class="z"></i></span></td><td class="y"><span class="n"><i class="z"></i></span></td><td class="y"><span class="n"><i class="z"></i></span></td><td class="y"><span class="n"><i class="z"></i></span></td><td><span class="n"><i class="z"></i></span></td><td><span class="n"><i class="z"></i></span></td><td class="y"><span class="n"><i class="z"></i></span></td><td><span class="n"><i class="z"></i></span></td><td class="st">تولید</td></tr>
<tr class="b"><td class="nm">پودر آب پنیر</td><td class="u"><span>تن</span></td><td><span class="n"><i class="z"></i></span></td><td><span class="n"><i class="z"></i></span></td><td class="y"><span class="n"><i class="z"></i></span></td><td><span class="n"><i class="z"></i></span></td><td><span class="n"><i class="z"></i></span></td><td><span class="n"><i class="z"></i></span></td><td><span class="n"><i class="z"></i></span></td><td class="y"><span class="n"><i class="z"></i></span></td><td class="y"><span class="n"><i class="z"></i></span></td><td class="y"><span class="n"><i class="z"></i></span></td><td class="y"><span class="n"><i class="z"></i></span></td><td></td><td></td><td class="y"><span class="n"><i class="z"></i></span></td><td><span class="n"><i class="z"></i></span></td><td class="y"><span class="n"><i class="z"></i></span></td><td class="y"><span class="n"><i class="z"></i></span></td><td class="y"><span class="n"><i class="z"></i></span></td><td class="y"><span class="n"><i class="z"></i></span></td><td><span class="n"><i class="z"></i></span></td><td><span class="n"><i class="z"></i></span></td><td class="y"><span class="n"><i class="z"></i></span></td><td><span class="n"><i class="z"></i></span></td><td class="st">تولید</td></tr>
<tr class="g"><td class="nm">انواع آبمیوه</td><td class="u"><span>تن</span></td><td><span class="n"><i class="z"></i></span></td><td><span class="n"><i class="z"></i></span></td><td class="y"><span class="n"><i class="z"></i></span></td><td><span class="n"><i class="z"></i></span></td><td><span class="n"><i class="z"></i></span></td><td><span class="n"><i class="z"></i></span></td><td><span class="n"><i class="z"></i></span></td><td class="y"><span class="n"><i class="z"></i></span></td><td class="y"><span class="n"><i class="z"></i></span></td><td class="y"><span class="n"><i class="z"></i></span></td><td class="y"><span class="n"><i class="z"></i></span></td><td></td><td></td><td class="y"><span class="n"><i class="z"></i></span></td><td><span class="n"><i class="z"></i></span></td><td class="y"><span class="n"><i class="z"></i></span></td><td class="y"><span class="n"><i class="z"></i></span></td><td class="y"><span class="n"><i class="z"></i></span></td><td class="y"><span class="n"><i class="z"></i></span></td><td><span class="n"><i class="z"></i></span></td><td><span class="n"><i class="z"></i></span></td><td class="y"><span class="n"><i class="z"></i></span></td><td><span class="n"><i class="z"></i></span></td><td class="st">تولید</td></tr>
<tr class="s"><td class="nm">جمع فروش<br>صادراتی</td><td></td><td><span class="n"><i class="z"></i></span></td><td><span class="n"><i class="z"></i></span></td><td></td><td><span class="n"><i class="z"></i></span></td><td><span class="n"><i class="z"></i></span></td><td><span class="n"><i class="z"></i></span></td><td><span class="n"><i class="z"></i></span></td><td><span class="n"><i class="z"></i></span></td><td><span class="n"><i class="z"></i></span></td><td></td><td><span class="n"><i class="z"></i></span></td><td><span class="n"><i class="z"></i></span></td><td><span class="n"><i class="z"></i></span></td><td></td><td><span class="n"><i class="z"></i></span></td><td><span class="n"><i class="z"></i></span></td><td><span class="n"><i class="z"></i></span></td><td></td><td><span class="n"><i class="z"></i></span></td><td><span class="n"><i class="z"></i></span></td><td><span class="n"><i class="z"></i></span></td><td></td><td><span class="n"><i class="z"></i></span></td><td></td></tr>
</table>
</body></html>
